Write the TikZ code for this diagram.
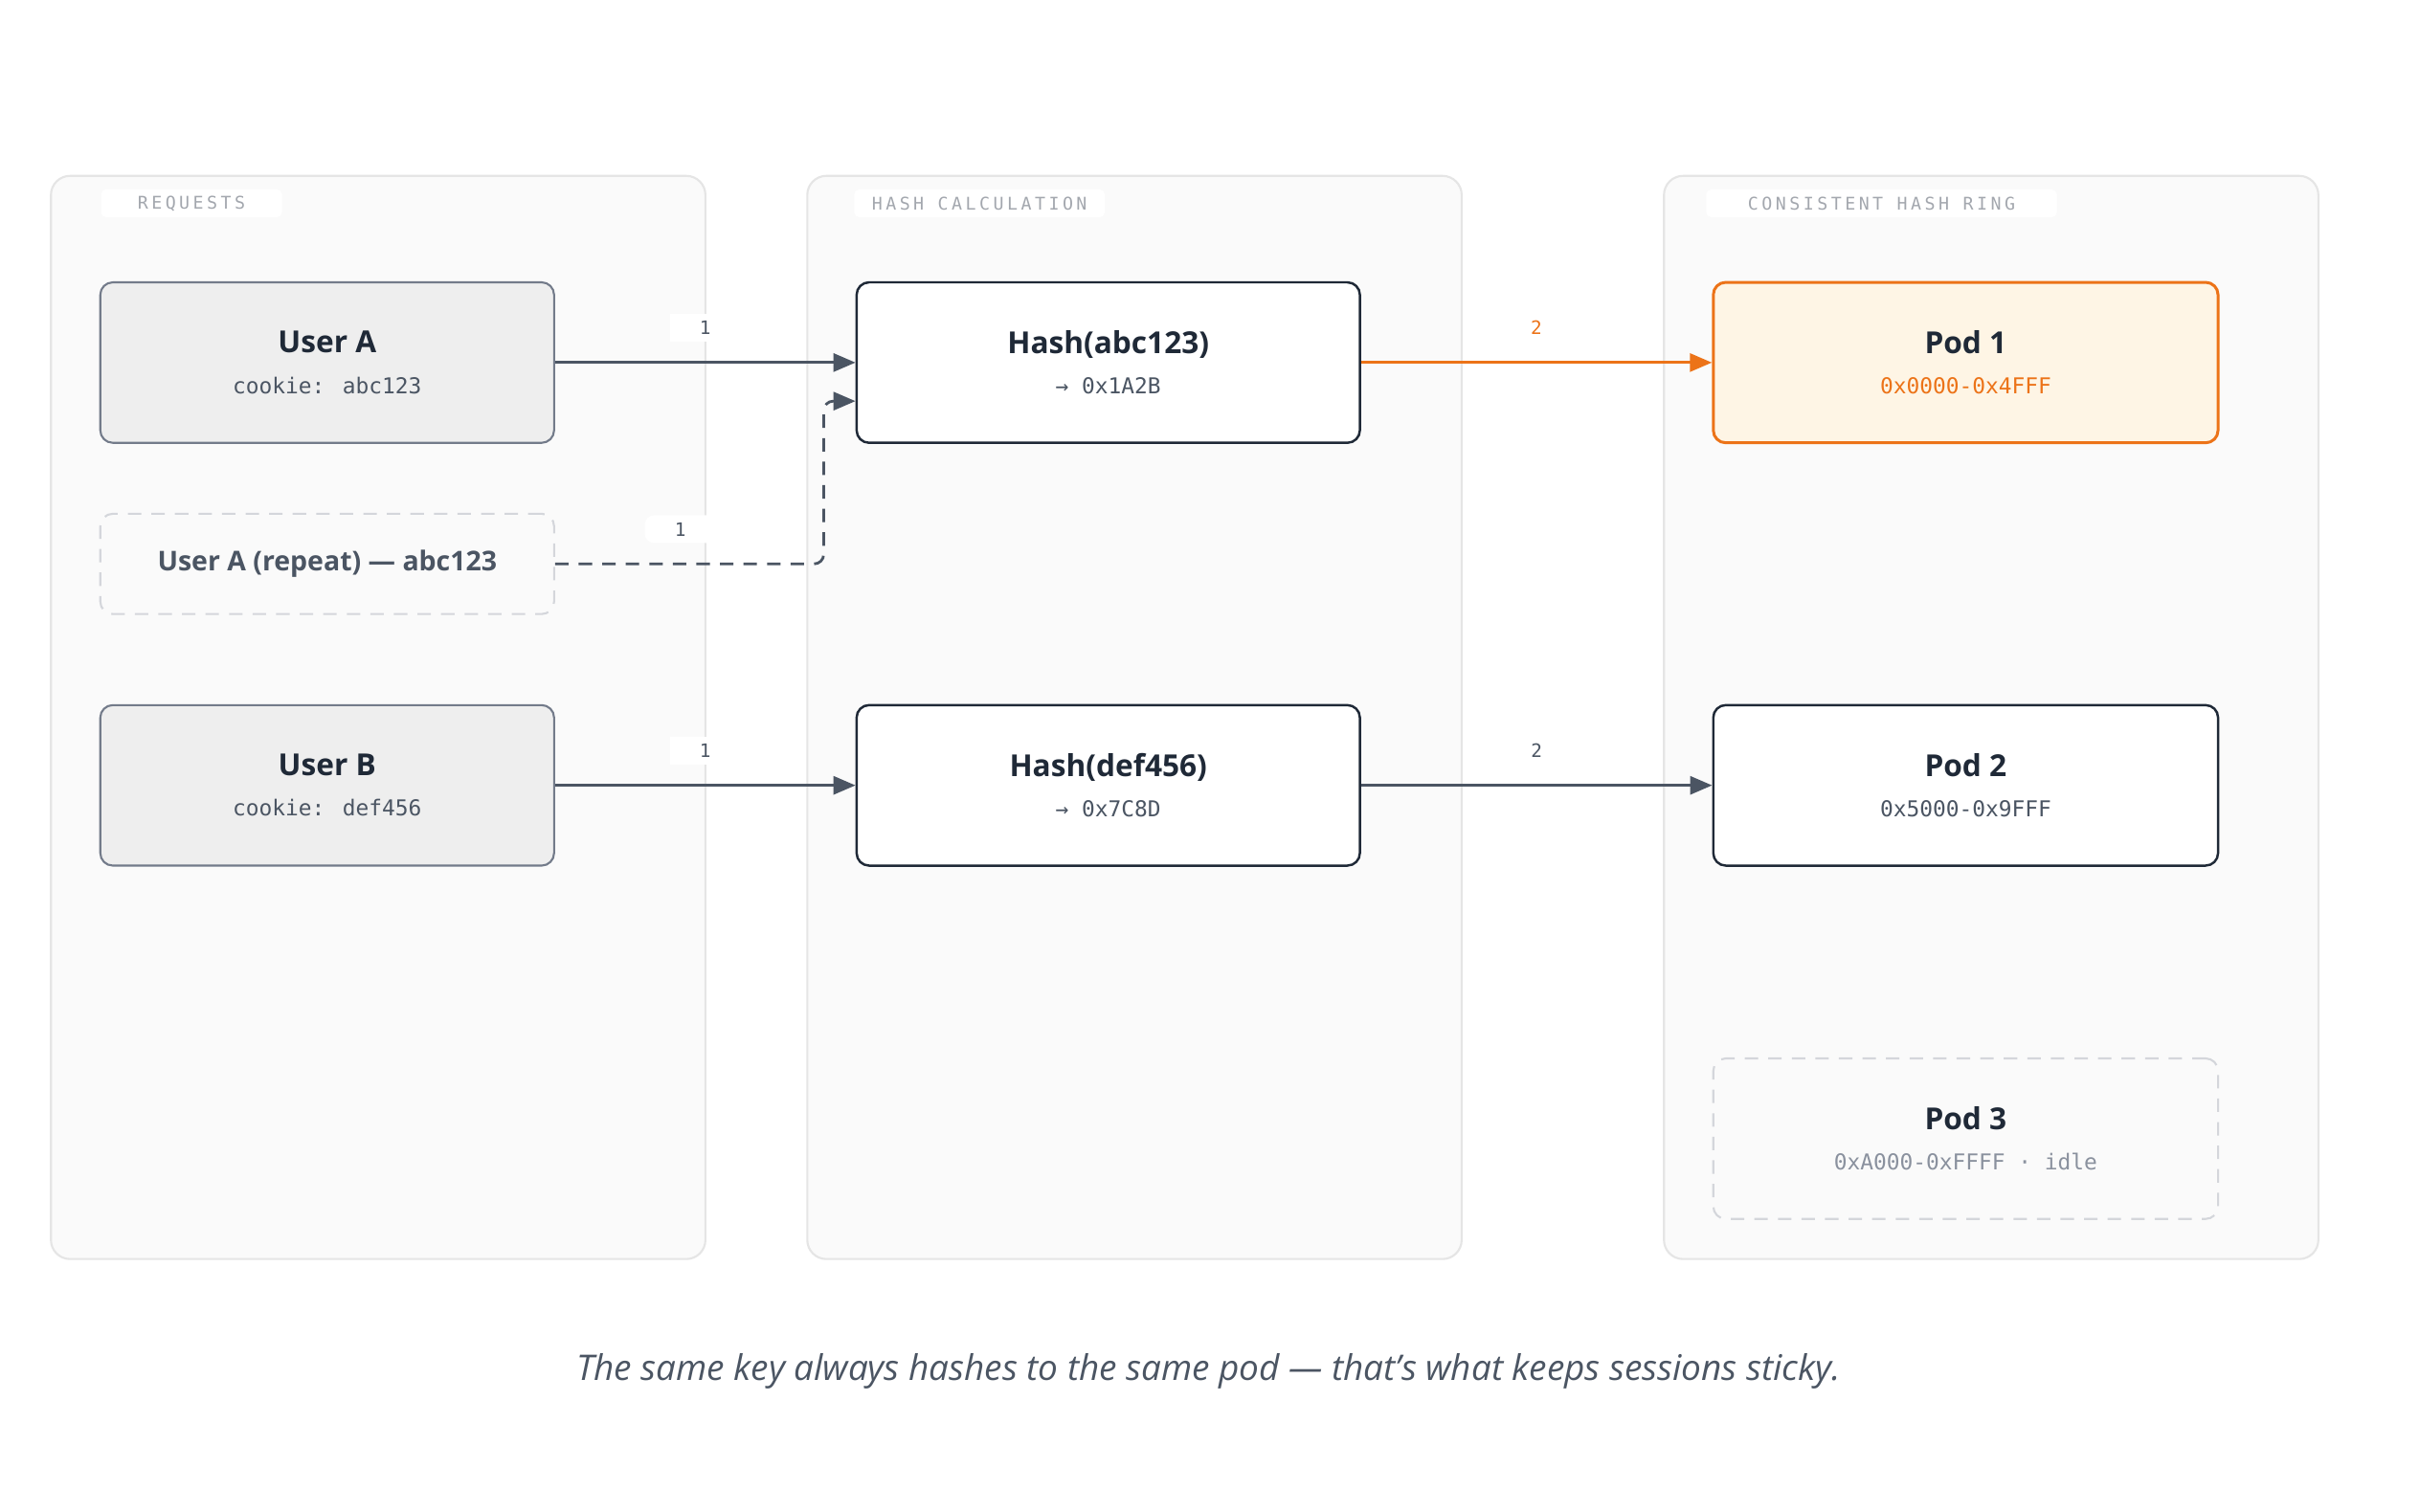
\documentclass[tikz,border=0pt]{standalone}
\usepackage{fontspec}
\setmainfont{Open Sans}
\newfontfamily\monofont{DejaVu Sans Mono}
\newfontfamily\capsfont[LetterSpace=19]{DejaVu Sans Mono}
\usetikzlibrary{arrows.meta,positioning}

\definecolor{panelfill}{HTML}{FAFAFA}
\definecolor{panelline}{HTML}{E5E5E5}
\definecolor{ink}{HTML}{1F2937}
\definecolor{slate}{HTML}{4B5563}
\definecolor{userfill}{HTML}{EEEEEE}
\definecolor{userline}{HTML}{737B8A}
\definecolor{podorange}{HTML}{EC7318}
\definecolor{podcream}{HTML}{FEF5E5}
\definecolor{ghost}{HTML}{D4D6DB}
\definecolor{capgray}{HTML}{A3A7AE}
\definecolor{idlegray}{HTML}{8A919E}

\newcommand{\subline}[2][slate]{{\mdseries\monofont\fontsize{6.5}{8}\selectfont\color{#1}#2}}

\begin{document}
\begin{tikzpicture}[
  panel/.style={fill=panelfill, draw=panelline, line width=0.6pt, rounded corners=0.2cm},
  paneltitle/.style={fill=white, rounded corners=1.5pt, minimum height=0.29cm, inner sep=0pt, text=capgray, font=\capsfont\fontsize{5.2}{6}\selectfont, anchor=west},
  box/.style={rounded corners=0.13cm, minimum height=1.677cm, align=center, text=ink, font=\bfseries\fontsize{9}{12}\selectfont},
  userbox/.style={box, fill=userfill, draw=userline, line width=0.6pt, minimum width=4.740cm},
  hashbox/.style={box, fill=white, draw=ink, line width=0.7pt, minimum width=5.257cm},
  podbox/.style={box, fill=white, draw=ink, line width=0.7pt, minimum width=5.273cm},
  ghostbox/.style={box, fill=panelfill, draw=ghost, line width=0.6pt, dash pattern=on 4pt off 3pt},
  flow/.style={draw=slate, line width=0.8pt, -{Triangle[length=0.23cm,width=0.19cm]}},
  elabel/.style={fill=white, minimum width=0.741cm, minimum height=0.29cm, inner sep=0pt, text=slate, font=\monofont\fontsize{5.5}{6}\selectfont, yshift=0.363cm},
]
\fill[white] (0,0) rectangle (25.28,15.80);
\useasboundingbox (0,0) rectangle (25.28,15.80);

% three columns
\draw[panel] (0.532,2.643) rectangle (7.369,13.962);
\draw[panel] (8.433,2.643) rectangle (15.269,13.962);
\draw[panel] (17.382,2.643) rectangle (24.218,13.962);
\node[paneltitle, minimum width=1.89cm] (t1) at (1.048,13.675) {REQUESTS};
\node[paneltitle, minimum width=2.617cm] (t2) at (8.916,13.675) {HASH CALCULATION};
\node[paneltitle, minimum width=3.662cm] (t3) at (17.817,13.675) {CONSISTENT HASH RING};

% requests
\node[userbox] (userA) at (3.418,12.011) {User A\\\subline{cookie: abc123}};
\node[ghostbox, minimum width=4.740cm, minimum height=1.048cm, text=slate, font=\bfseries\fontsize{8.1}{10}\selectfont] (repeat) at (3.418,9.907) {User A (repeat) — abc123};
\node[userbox] (userB) at (3.418,7.593) {User B\\\subline{cookie: def456}};

% hashes
\node[hashbox] (hashA) at (11.577,12.011) {Hash(abc123)\\\subline{→ 0x1A2B}};
\node[hashbox] (hashB) at (11.577,7.593) {Hash(def456)\\\subline{→ 0x7C8D}};

% ring
\node[podbox, fill=podcream, draw=podorange, line width=0.85pt] (pod1) at (20.534,12.011) {Pod 1\\\subline[podorange]{0x0000-0x4FFF}};
\node[podbox] (pod2) at (20.534,7.593) {Pod 2\\\subline{0x5000-0x9FFF}};
\node[ghostbox, minimum width=5.273cm] (pod3) at (20.534,3.901) {Pod 3\\\subline[idlegray]{0xA000-0xFFFF · idle}};

% arrows
\draw[flow] (userA) -- node[elabel] (n1) {1} (hashA);
\draw[flow, rounded corners=0.1cm, dash pattern=on 4pt off 3pt] (repeat.east) -- node[elabel, pos=0.466] (n2) {1} ++(2.806,0) |- ([yshift=-0.403cm]hashA.west);
\draw[flow] (userB) -- node[elabel] (n3) {1} (hashB);
\draw[flow, draw=podorange] (hashA) -- node[elabel, text=podorange] (n4) {2} (pod1);
\draw[flow] (hashB) -- node[elabel] (n5) {2} (pod2);

\node[font=\itshape\fontsize{10.5}{12}\selectfont, text=slate] (caption) at (12.625,1.466) {The same key always hashes to the same pod — that's what keeps sessions sticky.};
\end{tikzpicture}
\end{document}
